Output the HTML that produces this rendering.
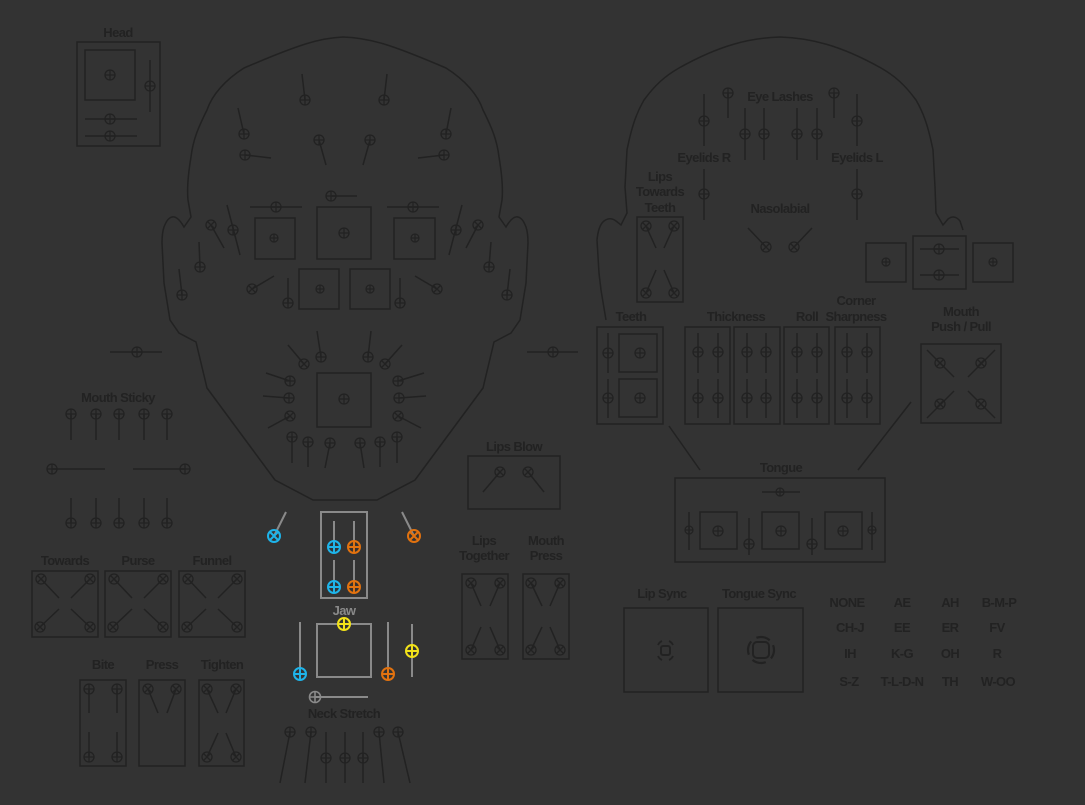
<!DOCTYPE html>
<html><head><meta charset="utf-8"><style>
html,body{margin:0;padding:0;background:#333333;}
svg{display:block}
text{font-family:"Liberation Sans",sans-serif;font-size:13px;font-weight:bold;fill:#222;text-anchor:middle;letter-spacing:-0.6px}
</style></head><body>
<svg width="1085" height="805" viewBox="0 0 1085 805" xmlns="http://www.w3.org/2000/svg">
<defs>
<g id="k" fill="none" stroke="#222" stroke-width="1.3"><circle r="5"/><path d="M-5 0H5M0 -5V5"/></g>
<g id="x" fill="none" stroke="#222" stroke-width="1.3"><circle r="5"/><path d="M-3.5 -3.5L3.5 3.5M3.5 -3.5L-3.5 3.5"/></g>
<g id="s" fill="none" stroke="#222" stroke-width="1.2"><circle r="4"/><path d="M-4 0H4M0 -4V4"/></g>
<g id="kc" fill="none" stroke="#1eb4ea" stroke-width="2"><circle r="6"/><path d="M-6 0H6M0 -6V6"/></g>
<g id="ko" fill="none" stroke="#e2720f" stroke-width="2"><circle r="6"/><path d="M-6 0H6M0 -6V6"/></g>
<g id="ky" fill="none" stroke="#f2e21a" stroke-width="2"><circle r="6"/><path d="M-6 0H6M0 -6V6"/></g>
<g id="kg" fill="none" stroke="#8a8a8a" stroke-width="1.6"><circle r="5.5"/><path d="M-5.5 0H5.5M0 -5.5V5.5"/></g>
<g id="xc" fill="none" stroke="#1eb4ea" stroke-width="2"><circle r="6"/><path d="M-4 -4L4 4M4 -4L-4 4"/></g>
<g id="xo" fill="none" stroke="#e2720f" stroke-width="2"><circle r="6"/><path d="M-4 -4L4 4M4 -4L-4 4"/></g>
</defs>
<g fill="none" stroke="#222" stroke-width="1.5">
<!-- Head box -->
<rect x="77" y="42" width="83" height="104"/>
<rect x="85" y="50" width="50" height="50"/>
<path d="M150 60V112M85 119H137M85 136H137"/>
<!-- left face -->
<path d="M343 37 C320 38 300 44 244 68 C225 80 212 95 207 110 C198 128 193 140 191 157 C188 175 187 190 188 200 L191 217 L184 227 C180 220 176 216 172 217 C168 218 166 222 164 227 C162 233 162 238 162 243 L164 283 L170 320 L179 333 L196 342 L207 388 L275 480 L313 500 L377 500 L415 480 L483 388 L494 342 L511 333 L520 320 L526 283 L528 243 C528 238 528 233 526 227 C524 222 522 218 518 217 C514 216 510 220 506 227 L499 217 L502 200 C503 190 502 175 499 157 C497 140 492 128 483 110 C478 95 465 80 446 68 C390 44 370 38 343 37 Z"/>
<path d="M302 74L305 100M387 74L384 100M238 108L244 134M451 108L446 134M245 155L271 158M444 155L418 158M319 140L326 165M370 140L363 165M331 196H357M250 207H302M387 207H439"/>
<rect x="255" y="218" width="40" height="41"/><rect x="317" y="207" width="54" height="52"/><rect x="394" y="218" width="41" height="41"/>
<rect x="299" y="269" width="40" height="40"/><rect x="350" y="269" width="40" height="40"/>
<path d="M211 225L224 248M227 205L240 255M200 267L199 242M182 295L179 269M478 225L466 248M462 205L449 255M489 267L491 242M507 295L510 269M252 289L274 276M437 289L415 276M288 303V278M400 303V278"/>
<path d="M321 357L317 331M368 357L371 331M304 364L288 345M385 364L402 345M290 381L266 373M398 381L424 373M289 398L263 396M399 398L426 396M290 416L268 428M398 416L421 428M292 437V463M308 442V467M330 443L325 468M397 437V463M380 442V467M360 443L364 468"/>
<rect x="317" y="373" width="54" height="54"/>
<path d="M110 352H162"/>
<path d="M71 414V440M96 414V440M119 414V440M144 414V440M167 414V440M52 469H105M133 469H185"/>
<path d="M71 498V523M96 498V523M119 498V523M144 498V523M167 498V523"/>
<!-- Towards/Purse/Funnel -->
<rect x="32" y="571" width="66" height="66"/><rect x="105" y="571" width="66" height="66"/><rect x="179" y="571" width="66" height="66"/>
<path d="M41 579L59 598M90 579L71 598M40 627L59 609M90 627L71 609"/>
<path d="M114 579L132 598M163 579L144 598M113 627L132 609M163 627L144 609"/>
<path d="M188 579L206 598M237 579L218 598M187 627L206 609M237 627L218 609"/>
<rect x="80" y="680" width="46" height="86"/><rect x="139" y="680" width="46" height="86"/><rect x="199" y="680" width="45" height="86"/>
<path d="M89 689V713M117 689V713M89 757V732M117 757V732M148 689L158 713M176 689L167 713M207 689L218 713M236 689L226 713M207 757L218 733M236 757L226 733"/>
<!-- neck -->
<path d="M290 732L280 783M311 732L305 783M326 732V783M345 732V783M363 732V783M379 732L384 783M398 732L410 783"/>
<!-- right head -->
<path d="M606 320 L601 290 L599 273 L597 240 C598 230 600 224 604 221 C608 218 612 218 616 221 L621 225 L627 213 L625 187 L627 150 C632 125 637 112 644 100 C655 85 665 76 679 68 C720 45 750 38 780 37 C810 38 840 45 881 68 C895 76 905 85 916 100 C923 112 928 125 933 150 L935 187 L936 213 L943 225 L948 219 C952 216 956 216 960 221 L963 230"/>
<path d="M728 93V118M834 93V118M704 94V146M857 94V146M745 108V160M764 108V160M797 108V160M817 108V160M704 169V220M857 169V220M766 247L748 228M794 247L812 228"/>
<rect x="637" y="217" width="46" height="85"/>
<path d="M646 226L656 248M674 226L664 248M646 293L656 270M674 293L664 270"/>
<rect x="866" y="243" width="40" height="39"/><rect x="913" y="236" width="53" height="53"/><rect x="973" y="243" width="40" height="39"/>
<path d="M920 249H959M920 275H959"/>
<rect x="597" y="327" width="66" height="97"/>
<path d="M608 333V373M608 379V418"/>
<rect x="619" y="334" width="38" height="38"/><rect x="619" y="379" width="38" height="38"/>
<path d="M527 352H578"/>
<rect x="685" y="327" width="45" height="97"/><rect x="734" y="327" width="46" height="97"/><rect x="784" y="327" width="45" height="97"/><rect x="835" y="327" width="45" height="97"/>
<path d="M698 333V373M718 333V373M747 333V373M766 333V373M797 333V373M817 333V373M847 333V373M867 333V373M698 379V418M718 379V418M747 379V418M766 379V418M797 379V418M817 379V418M847 379V418M867 379V418"/>
<rect x="921" y="344" width="80" height="79"/>
<path d="M927 350L954 377M995 350L968 377M927 418L954 391M995 418L968 391"/>
<path d="M669 426L700 470M911 402L858 470"/>
<!-- lips blow -->
<rect x="468" y="456" width="92" height="53"/>
<path d="M500 472L483 492M528 472L544 492"/>
<rect x="675" y="478" width="210" height="84"/>
<path d="M762 492H800M689 512V550M872 512V550M749 518V555M812 518V555"/>
<rect x="700" y="512" width="37" height="37"/><rect x="762" y="512" width="37" height="37"/><rect x="825" y="512" width="37" height="37"/>
<rect x="462" y="574" width="46" height="85"/><rect x="523" y="574" width="46" height="85"/>
<path d="M471 583L481 606M500 583L490 606M471 650L481 627M500 650L490 627M531 583L542 606M560 583L550 606M531 650L542 627M560 650L550 627"/>
<rect x="624" y="608" width="84" height="84"/><rect x="718" y="608" width="85" height="84"/>
</g>
<!-- sync icons -->
<g fill="none" stroke="#222" stroke-width="2">
<rect x="661" y="646" width="9" height="9" rx="2"/>
<path d="M658 645a8 8 0 0 1 4 -4M673 645a8 8 0 0 0 -4 -4M658 656a8 8 0 0 0 4 4M673 656a8 8 0 0 1 -4 4" stroke-width="1.8"/>
<rect x="753" y="642" width="16" height="16" rx="4"/>
<circle cx="761" cy="650" r="13" stroke-dasharray="14 6.4" stroke-width="2.2" transform="rotate(-22 761 650)"/>
</g>
<!-- knobs -->
<use href="#k" x="110" y="75"/><use href="#k" x="150" y="86"/><use href="#k" x="110" y="119"/><use href="#k" x="110" y="136"/>
<use href="#k" x="305" y="100"/><use href="#k" x="384" y="100"/><use href="#k" x="244" y="134"/><use href="#k" x="446" y="134"/>
<use href="#k" x="245" y="155"/><use href="#k" x="444" y="155"/><use href="#k" x="319" y="140"/><use href="#k" x="370" y="140"/>
<use href="#k" x="331" y="196"/><use href="#k" x="276" y="207"/><use href="#k" x="413" y="207"/>
<use href="#s" x="274" y="238"/><use href="#k" x="344" y="233"/><use href="#s" x="415" y="238"/><use href="#s" x="320" y="289"/><use href="#s" x="370" y="289"/>
<use href="#x" x="211" y="225"/><use href="#k" x="233" y="230"/><use href="#k" x="200" y="267"/><use href="#k" x="182" y="295"/>
<use href="#x" x="478" y="225"/><use href="#k" x="456" y="230"/><use href="#k" x="489" y="267"/><use href="#k" x="507" y="295"/>
<use href="#x" x="252" y="289"/><use href="#x" x="437" y="289"/><use href="#k" x="288" y="303"/><use href="#k" x="400" y="303"/>
<use href="#k" x="321" y="357"/><use href="#k" x="368" y="357"/><use href="#x" x="304" y="364"/><use href="#x" x="385" y="364"/>
<use href="#k" x="290" y="381"/><use href="#k" x="398" y="381"/><use href="#k" x="289" y="398"/><use href="#k" x="399" y="398"/>
<use href="#x" x="290" y="416"/><use href="#x" x="398" y="416"/><use href="#k" x="344" y="399"/>
<use href="#k" x="292" y="437"/><use href="#k" x="308" y="442"/><use href="#k" x="330" y="443"/><use href="#k" x="397" y="437"/><use href="#k" x="380" y="442"/><use href="#k" x="360" y="443"/>
<use href="#k" x="137" y="352"/>
<use href="#k" x="71" y="414"/><use href="#k" x="96" y="414"/><use href="#k" x="119" y="414"/><use href="#k" x="144" y="414"/><use href="#k" x="167" y="414"/>
<use href="#k" x="52" y="469"/><use href="#k" x="185" y="469"/>
<use href="#k" x="71" y="523"/><use href="#k" x="96" y="523"/><use href="#k" x="119" y="523"/><use href="#k" x="144" y="523"/><use href="#k" x="167" y="523"/>
<use href="#x" x="41" y="579"/><use href="#x" x="90" y="579"/><use href="#x" x="40" y="627"/><use href="#x" x="90" y="627"/>
<use href="#x" x="114" y="579"/><use href="#x" x="163" y="579"/><use href="#x" x="113" y="627"/><use href="#x" x="163" y="627"/>
<use href="#x" x="188" y="579"/><use href="#x" x="237" y="579"/><use href="#x" x="187" y="627"/><use href="#x" x="237" y="627"/>
<use href="#k" x="89" y="689"/><use href="#k" x="117" y="689"/><use href="#k" x="89" y="757"/><use href="#k" x="117" y="757"/>
<use href="#x" x="148" y="689"/><use href="#x" x="176" y="689"/>
<use href="#x" x="207" y="689"/><use href="#x" x="236" y="689"/><use href="#x" x="207" y="757"/><use href="#x" x="236" y="757"/>
<use href="#k" x="290" y="732"/><use href="#k" x="311" y="732"/><use href="#k" x="326" y="758"/><use href="#k" x="345" y="758"/><use href="#k" x="363" y="758"/><use href="#k" x="379" y="732"/><use href="#k" x="398" y="732"/>
<!-- right -->
<use href="#k" x="728" y="93"/><use href="#k" x="834" y="93"/><use href="#k" x="704" y="121"/><use href="#k" x="857" y="121"/>
<use href="#k" x="745" y="134"/><use href="#k" x="764" y="134"/><use href="#k" x="797" y="134"/><use href="#k" x="817" y="134"/>
<use href="#k" x="704" y="194"/><use href="#k" x="857" y="194"/><use href="#x" x="766" y="247"/><use href="#x" x="794" y="247"/>
<use href="#x" x="646" y="226"/><use href="#x" x="674" y="226"/><use href="#x" x="646" y="293"/><use href="#x" x="674" y="293"/>
<use href="#s" x="886" y="262"/><use href="#k" x="939" y="249"/><use href="#k" x="939" y="275"/><use href="#s" x="993" y="262"/>
<use href="#k" x="608" y="353"/><use href="#k" x="608" y="398"/><use href="#k" x="640" y="353"/><use href="#k" x="640" y="398"/><use href="#k" x="553" y="352"/>
<use href="#k" x="698" y="352"/><use href="#k" x="718" y="352"/><use href="#k" x="747" y="352"/><use href="#k" x="766" y="352"/><use href="#k" x="797" y="352"/><use href="#k" x="817" y="352"/><use href="#k" x="847" y="352"/><use href="#k" x="867" y="352"/>
<use href="#k" x="698" y="398"/><use href="#k" x="718" y="398"/><use href="#k" x="747" y="398"/><use href="#k" x="766" y="398"/><use href="#k" x="797" y="398"/><use href="#k" x="817" y="398"/><use href="#k" x="847" y="398"/><use href="#k" x="867" y="398"/>
<use href="#x" x="940" y="363"/><use href="#x" x="981" y="363"/><use href="#x" x="940" y="404"/><use href="#x" x="981" y="404"/>
<use href="#x" x="500" y="472"/><use href="#x" x="528" y="472"/>
<use href="#s" x="780" y="492"/><use href="#k" x="718" y="531"/><use href="#k" x="781" y="531"/><use href="#k" x="843" y="531"/>
<use href="#s" x="689" y="530"/><use href="#s" x="872" y="530"/><use href="#k" x="749" y="544"/><use href="#k" x="812" y="544"/>
<use href="#x" x="471" y="583"/><use href="#x" x="500" y="583"/><use href="#x" x="471" y="650"/><use href="#x" x="500" y="650"/>
<use href="#x" x="531" y="583"/><use href="#x" x="560" y="583"/><use href="#x" x="531" y="650"/><use href="#x" x="560" y="650"/>
<!-- Jaw -->
<g fill="none" stroke="#8a8a8a" stroke-width="2">
<rect x="321" y="512" width="46" height="86"/>
<path d="M334 521V547M354 521V547M334 560V587M354 560V587M274 536L286 512M414 536L402 512"/>
<rect x="317" y="624" width="54" height="53"/>
<path d="M300 622V674M388 622V674M412 624V677M315 697H368"/>
</g>
<use href="#xc" x="274" y="536"/><use href="#xo" x="414" y="536"/>
<use href="#kc" x="334" y="547"/><use href="#ko" x="354" y="547"/><use href="#kc" x="334" y="587"/><use href="#ko" x="354" y="587"/>
<use href="#ky" x="344" y="624"/><use href="#kc" x="300" y="674"/><use href="#ko" x="388" y="674"/><use href="#ky" x="412" y="651"/><use href="#kg" x="315" y="697"/>
<!-- labels -->
<text x="118" y="37">Head</text>
<text x="118" y="402">Mouth Sticky</text>
<text x="65" y="565">Towards</text><text x="138" y="565">Purse</text><text x="212" y="565">Funnel</text>
<text x="103" y="669">Bite</text><text x="162" y="669">Press</text><text x="222" y="669">Tighten</text>
<text x="344" y="615" style="fill:#8a8a8a">Jaw</text>
<text x="344" y="718">Neck Stretch</text>
<text x="780" y="101">Eye Lashes</text>
<text x="704" y="162">Eyelids R</text><text x="857" y="162">Eyelids L</text>
<text x="780" y="213">Nasolabial</text>
<text x="660" y="181">Lips</text><text x="660" y="196">Towards</text><text x="660" y="212">Teeth</text>
<text x="631" y="321">Teeth</text><text x="736" y="321">Thickness</text><text x="807" y="321">Roll</text>
<text x="856" y="305">Corner</text><text x="856" y="321">Sharpness</text>
<text x="961" y="316">Mouth</text><text x="961" y="331">Push / Pull</text>
<text x="514" y="451">Lips Blow</text>
<text x="781" y="472">Tongue</text>
<text x="484" y="545">Lips</text><text x="484" y="560">Together</text>
<text x="546" y="545">Mouth</text><text x="546" y="560">Press</text>
<text x="662" y="598">Lip Sync</text><text x="759" y="598">Tongue Sync</text>
<g style="font-size:12.5px">
<text x="847" y="607">NONE</text><text x="902" y="607">AE</text><text x="950" y="607">AH</text><text x="999" y="607">B-M-P</text>
<text x="850" y="632">CH-J</text><text x="902" y="632">EE</text><text x="950" y="632">ER</text><text x="997" y="632">FV</text>
<text x="850" y="658">IH</text><text x="902" y="658">K-G</text><text x="950" y="658">OH</text><text x="997" y="658">R</text>
<text x="849" y="686">S-Z</text><text x="902" y="686">T-L-D-N</text><text x="950" y="686">TH</text><text x="998" y="686">W-OO</text>
</g>
</svg>
</body></html>
